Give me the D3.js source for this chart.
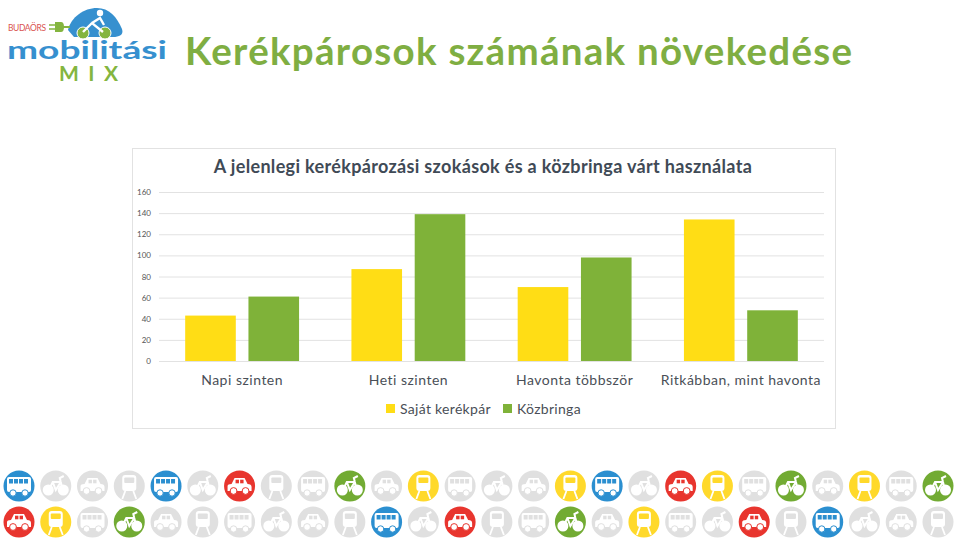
<!DOCTYPE html>
<html><head><meta charset="utf-8">
<script src="https://cdnjs.cloudflare.com/ajax/libs/d3/7.8.5/d3.min.js"></script>
<style>html,body{margin:0;background:#fff}svg{display:block}text{font-family:Lato,"Open Sans",sans-serif}</style>
</head><body><svg id="c" width="960" height="540"></svg>
<script>
const slideTitle = "Kerékpárosok számának növekedése";
const chartTitle = "A jelenlegi kerékpározási szokások és a közbringa várt használata";
const categories = ["Napi szinten","Heti szinten","Havonta többször","Ritkábban, mint havonta"];
const seriesNames = ["Saját kerékpár","Közbringa"];
const sajat = [43,87,70,134];
const kozbringa = [61,139,98,48];
const yTicks = [0,20,40,60,80,100,120,140,160];
const seriesColors = ["#FFDD15","#7FB239"];
const iconRow1 = ["bus","bike","car","train","bus","bike","car","train","bus","bike","car","train","bus","bike","car","train","bus","bike","car","train","bus","bike","car","train","bus","bike"];
const iconRow1On = [1,0,0,0,1,0,1,0,0,1,0,1,0,0,0,1,1,0,1,1,0,1,0,1,0,1];
const iconRow2 = ["car","train","bus","bike","car","train","bus","bike","car","train","bus","bike","car","train","bus","bike","car","train","bus","bike","car","train","bus","bike","car","train"];
const iconRow2On = [1,1,0,1,0,0,0,0,0,0,1,0,1,0,0,1,0,1,0,0,1,0,1,0,0,0];
const iconColors = {bus:"#2B8FD0",bike:"#72AB33",car:"#E8352E",train:"#FFD92B"};

const svg = d3.select("#c");
svg.append("text").attr("x",185).attr("y",65).attr("font-size",38.5).attr("font-weight",700)
  .attr("letter-spacing",1.28).attr("fill","#7FAE42").text(slideTitle);

// logo
const logo = svg.append("g");
logo.append("path").attr("d","M68 30 C71 17 84 8 97 8 C109 8 117 17 122 29 C124 35 119 37 113 37 L74 37 Z").attr("fill","#3690CF");
[83,105].forEach(c=>logo.append("circle").attr("cx",c).attr("cy",33).attr("r",6).attr("fill","#84B53F").attr("stroke","#fff"));
logo.append("path").attr("d","M83 32 L92 23 L103 32 M92 23 L100 18 L104 25").attr("stroke","#fff").attr("stroke-width",2.4).attr("fill","none");
logo.append("circle").attr("cx",100).attr("cy",13).attr("r",3.2).attr("fill","#fff");
logo.append("path").attr("d","M49 25 H56 M49 29 H56").attr("stroke","#84B53F").attr("stroke-width",1.6).attr("fill","none");
logo.append("path").attr("d","M55 22 H61 Q64 22 64 27 Q64 32 61 32 H55 Z").attr("fill","#84B53F");
logo.append("path").attr("d","M63 27 H70").attr("stroke","#84B53F").attr("stroke-width",2).attr("fill","none");
logo.append("text").attr("x",8).attr("y",31).attr("font-size",8.5).attr("fill","#D9534F").attr("textLength",38).text("BUDAÖRS");
logo.append("text").attr("x",7).attr("y",59).attr("font-size",24).attr("font-weight",700).attr("fill","#3690CF")
  .attr("textLength",160).attr("lengthAdjust","spacingAndGlyphs").text("mobilitási");
logo.append("text").attr("x",59).attr("y",81).attr("font-size",21).attr("font-weight",700).attr("fill","#84B53F")
  .attr("textLength",59).text("MIX");

// chart frame
svg.append("rect").attr("x",132.5).attr("y",148.5).attr("width",703).attr("height",280).attr("fill","#fff").attr("stroke","#E2E2E2");
svg.append("text").attr("x",483).attr("y",173).attr("text-anchor","middle").attr("font-size",18).attr("font-weight",700)
  .attr("letter-spacing",0.33).attr("fill","#3F4A56").text(chartTitle);

const y = d3.scaleLinear().domain([0,160]).range([361,192]);
const x0 = d3.scaleBand().domain(categories).range([159,824]).paddingInner(0.315).paddingOuter(0.1575);
const x1 = d3.scaleBand().domain(seriesNames).range([0,x0.bandwidth()]).paddingInner(0.2);

const yAxis = svg.append("g").attr("transform","translate(159,0)")
  .call(d3.axisLeft(y).tickValues(yTicks).tickSize(-665).tickPadding(8).tickFormat(d3.format("d")));
yAxis.select(".domain").remove();
yAxis.selectAll("line").attr("stroke","#E2E2E2");
yAxis.selectAll("text").attr("font-size",8).attr("fill","#555").style("font-family","Lato");

[sajat,kozbringa].forEach((vals,s)=>{
  svg.append("g").selectAll("rect").data(vals).join("rect")
    .attr("x",(d,i)=>x0(categories[i])+x1(seriesNames[s]))
    .attr("width",x1.bandwidth())
    .attr("y",d=>y(d)).attr("height",d=>y(0)-y(d)).attr("fill",seriesColors[s]);
});

const xAxis = svg.append("g").attr("transform","translate(0,361)").call(d3.axisBottom(x0).tickSize(0).tickPadding(14));
xAxis.select(".domain").remove();
xAxis.selectAll("text").attr("font-size",14).attr("fill","#4A4F57").attr("letter-spacing",0.5).style("font-family","Lato");

// legend
const legendX = [386,503];
seriesNames.forEach((n,i)=>{
  svg.append("rect").attr("x",legendX[i]).attr("y",404).attr("width",9).attr("height",9).attr("fill",seriesColors[i]);
  svg.append("text").attr("x",legendX[i]+14).attr("y",414).attr("font-size",14).attr("letter-spacing",0.3).attr("fill","#4A4F57").text(n);
});

// icon strip
const ix = d3.scaleLinear().domain([0,25]).range([19,938]);
function drawIcon(g,type){
  const w="#fff", c=g.attr("data-c");
  if(type==="bus"){
    g.append("rect").attr("x",-12).attr("y",-9).attr("width",24).attr("height",15).attr("rx",2).attr("fill",w);
    g.selectAll(".w").data([-10,-5,0,5]).join("rect").attr("x",d=>d).attr("y",-7).attr("width",4).attr("height",4.5).attr("fill",c);
    [-6,6].forEach(p=>g.append("circle").attr("cx",p).attr("cy",7).attr("r",3.2).attr("fill",w).attr("stroke",c));
  } else if(type==="bike"){
    [-7.5,7.5].forEach(p=>g.append("circle").attr("cx",p).attr("cy",4).attr("r",5.5).attr("fill",w));
    g.append("path").attr("d","M-7 4 L-3 -4 L5 -4 L7 4 M-3 -4 L0 4 L5 -4 M5 -4 L4 -8 L8 -10").attr("stroke",w).attr("stroke-width",2).attr("fill","none");
  } else if(type==="car"){
    g.append("path").attr("d","M-12 5 V0 Q-12 -2 -8 -2 L-5 -8 H5 L8 -2 Q12 -2 12 1 V5 Z").attr("fill",w);
    [-4,0.6].forEach(p=>g.append("rect").attr("x",p).attr("y",-6.3).attr("width",3.4).attr("height",3.6).attr("fill",c));
    [-6,6].forEach(p=>g.append("circle").attr("cx",p).attr("cy",5).attr("r",3.4).attr("fill",w).attr("stroke",c));
  } else {
    g.append("rect").attr("x",-7).attr("y",-11).attr("width",14).attr("height",16).attr("rx",3).attr("fill",w);
    g.append("rect").attr("x",-5).attr("y",-8.5).attr("width",10).attr("height",5.5).attr("rx",1).attr("fill",c);
    g.append("path").attr("d","M-4 5 L-7 13 M4 5 L7 13").attr("stroke",w).attr("stroke-width",1.8).attr("fill","none");
  }
}
[[iconRow1,iconRow1On,486],[iconRow2,iconRow2On,522]].forEach(([types,on,cy])=>{
  types.forEach((t,i)=>{
    const c = on[i] ? iconColors[t] : "#E0E0E0";
    const g = svg.append("g").attr("transform",`translate(${ix(i)},${cy})`).attr("data-c",c);
    g.append("circle").attr("r",15.5).attr("fill",c);
    drawIcon(g,t);
  });
});
</script></body></html>
